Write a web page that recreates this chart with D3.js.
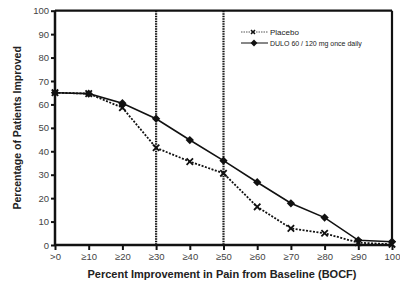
<!DOCTYPE html>
<html>
<head>
<meta charset="utf-8">
<script src="https://cdn.jsdelivr.net/npm/d3@7"></script>
<style>
  body { margin: 0; background: #fff; }
  svg { display: block; font-family: "Liberation Sans", Arial, sans-serif; }
</style>
</head>
<body>
<svg id="chart" width="400" height="284"></svg>
<script>
var categories = [">0", "≥10", "≥20", "≥30", "≥40", "≥50", "≥60", "≥70", "≥80", "≥90", "100"];
var placebo = [65, 64.6, 58.6, 41.5, 35.6, 30.6, 16.3, 7.1, 5, 1, 0.3];
var dulo = [65, 64.6, 60.5, 53.9, 44.8, 36, 26.8, 17.8, 11.7, 2, 1.4];
var yTicks = [0, 10, 20, 30, 40, 50, 60, 70, 80, 90, 100];
var markedCats = ["≥30", "≥50"];

// plot box (window.top is read-only, so no bare "top" here)
var plotL = 55, plotR = 392, plotT = 10.7, plotB = 245;

var svg = d3.select("#chart");

var x = d3.scalePoint()
    .domain(categories)
    .range([plotL, plotR]);

var y = d3.scaleLinear()
    .domain([0, 100])
    .range([plotB, plotT]);

// frame top and right
svg.append("line")
    .attr("x1", plotL).attr("x2", plotR)
    .attr("y1", y(100)).attr("y2", y(100))
    .attr("stroke", "#111").attr("stroke-width", 2.2);
svg.append("line")
    .attr("x1", plotR).attr("x2", plotR)
    .attr("y1", y(100)).attr("y2", y(0))
    .attr("stroke", "#111").attr("stroke-width", 2.2);

// dotted reference lines
svg.selectAll(".ref")
    .data(markedCats)
    .enter().append("line")
    .attr("x1", function(d) { return x(d); })
    .attr("x2", function(d) { return x(d); })
    .attr("y1", y(100)).attr("y2", y(0))
    .attr("stroke", "#111")
    .attr("stroke-width", 2.2)
    .attr("stroke-dasharray", "1.5,1");

var yAxis = svg.append("g")
    .attr("transform", "translate(" + plotL + ",0)")
    .call(d3.axisLeft(y).tickValues(yTicks).tickSize(4).tickPadding(2));

var xAxis = svg.append("g")
    .attr("transform", "translate(0," + plotB + ")")
    .call(d3.axisBottom(x).tickSize(5).tickPadding(3));

[yAxis, xAxis].forEach(function(g) {
    g.select(".domain").attr("stroke", "#111").attr("stroke-width", 2.5);
    g.selectAll(".tick line").attr("stroke", "#111").attr("stroke-width", 2);
    g.selectAll(".tick text")
        .attr("fill", "#444")
        .style("font-size", "9.5px");
});
xAxis.select(".domain").attr("d", "M" + plotL + ",0H" + plotR);
yAxis.select(".domain").attr("d", "M0," + y(100) + "V" + y(0));

var line = d3.line()
    .x(function(d, i) { return x(categories[i]); })
    .y(function(d) { return y(d); });

svg.append("path")
    .datum(placebo)
    .attr("d", line)
    .attr("fill", "none")
    .attr("stroke", "#111")
    .attr("stroke-width", 1.8)
    .attr("stroke-dasharray", "2,1.5");

svg.append("path")
    .datum(dulo)
    .attr("d", line)
    .attr("fill", "none")
    .attr("stroke", "#111")
    .attr("stroke-width", 1.6);

var crossPath = "M-3.2,-3.2L3.2,3.2M-3.2,3.2L3.2,-3.2";
var diamond = d3.symbol().type(d3.symbolDiamond2).size(44);

svg.selectAll(".pm")
    .data(placebo)
    .enter().append("path")
    .attr("transform", function(d, i) { return "translate(" + x(categories[i]) + "," + y(d) + ")"; })
    .attr("d", crossPath)
    .attr("stroke", "#111")
    .attr("stroke-width", 1.8);

svg.selectAll(".dm")
    .data(dulo)
    .enter().append("path")
    .attr("transform", function(d, i) { return "translate(" + x(categories[i]) + "," + y(d) + ")"; })
    .attr("d", diamond)
    .attr("fill", "#111");

// legend
var lg = svg.append("g").attr("transform", "translate(241,32)");
lg.append("line").attr("x1", 0).attr("x2", 27).attr("y1", 0).attr("y2", 0)
    .attr("stroke", "#555").attr("stroke-width", 1).attr("stroke-dasharray", "1.5,1");
lg.append("path").attr("transform", "translate(12,0)").attr("d", "M-2,-2L2,2M-2,2L2,-2")
    .attr("stroke", "#111").attr("stroke-width", 1.5);
lg.append("text").attr("x", 29).attr("y", 3).text("Placebo")
    .style("font-size", "8px").attr("fill", "#222");
lg.append("line").attr("x1", 0).attr("x2", 27).attr("y1", 11).attr("y2", 11)
    .attr("stroke", "#111").attr("stroke-width", 1);
lg.append("path").attr("transform", "translate(13,11)")
    .attr("d", d3.symbol().type(d3.symbolDiamond2).size(30))
    .attr("fill", "#111");
lg.append("text").attr("x", 29).attr("y", 14).text("DULO 60 / 120 mg once daily")
    .style("font-size", "7px").attr("fill", "#222");

// axis titles
svg.append("text")
    .attr("x", 222).attr("y", 278)
    .attr("text-anchor", "middle")
    .style("font-size", "11px").style("font-weight", "bold")
    .attr("fill", "#222")
    .text("Percent Improvement in Pain from Baseline (BOCF)");

svg.append("text")
    .attr("transform", "translate(21," + ((plotT + plotB) / 2) + ") rotate(-90)")
    .attr("text-anchor", "middle")
    .style("font-size", "10.5px").style("font-weight", "bold")
    .attr("fill", "#222")
    .text("Percentage of Patients Improved");
</script>
</body>
</html>
